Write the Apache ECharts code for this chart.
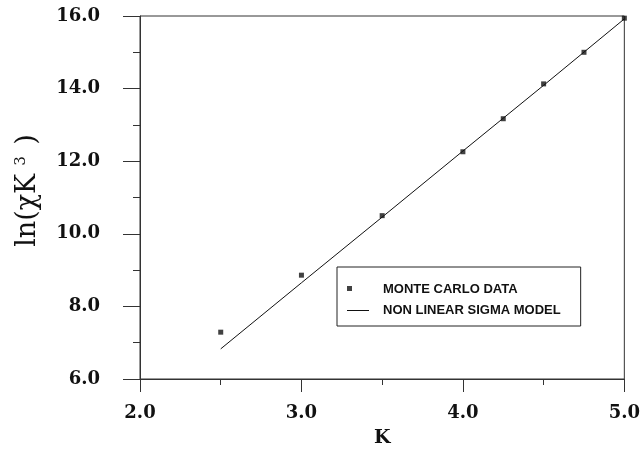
<!DOCTYPE html>
<html>
<head>
<meta charset="utf-8">
<script src="https://cdn.jsdelivr.net/npm/echarts@6/dist/echarts.min.js"></script>
<style>html,body{margin:0;padding:0;background:#fff}#c{width:643px;height:454px}</style>
</head>
<body>
<div id="c"></div>
<script>
var xTicks = [2.0, 3.0, 4.0, 5.0];
var yTicks = [6.0, 8.0, 10.0, 12.0, 14.0, 16.0];
var mcK = [2.5, 3.0, 3.5, 4.0, 4.25, 4.5, 4.75, 5.0];
var mcVal = [7.29, 8.86, 10.5, 12.26, 13.17, 14.13, 15.0, 15.94];
var modelK = [2.5, 3.0, 3.5, 4.0, 4.5, 5.0];
var modelVal = [6.83, 8.65, 10.46, 12.28, 14.09, 15.92];

var chart = echarts.init(document.getElementById('c'), null, {renderer: 'canvas'});
var serif = '"DejaVu Serif", "Liberation Serif", serif';
var sans = '"Liberation Sans", Arial, sans-serif';
chart.setOption({
  animation: false,
  backgroundColor: '#fff',
  grid: {left: 140, top: 16, right: 15, bottom: 75, show: true, borderColor: '#333', borderWidth: 1, backgroundColor: 'transparent'},
  xAxis: {
    type: 'value', min: xTicks[0], max: xTicks[xTicks.length - 1], interval: 1,
    name: 'K', nameLocation: 'middle', nameGap: 50,
    nameTextStyle: {fontFamily: serif, fontSize: 19, fontWeight: 'bold', color: '#111'},
    axisLine: {show: true, onZero: false, lineStyle: {color: '#333', width: 1}},
    axisTick: {show: true, inside: false, length: 13, lineStyle: {color: '#333'}},
    minorTick: {show: true, splitNumber: 2, length: 6, lineStyle: {color: '#333'}},
    splitLine: {show: false},
    axisLabel: {margin: 25, fontFamily: serif, fontSize: 18, fontWeight: 'bold', color: '#111',
      formatter: function (v) { return v.toFixed(1); }}
  },
  yAxis: {
    type: 'value', min: yTicks[0], max: yTicks[yTicks.length - 1], interval: 2,
    name: '{a|ln(χK}{s|3}{a| )}', nameLocation: 'middle', nameGap: 98,
    nameTextStyle: {padding: [0, 0, 0, 14], rich: {
      a: {fontFamily: serif, fontSize: 27, color: '#111'},
      s: {fontFamily: serif, fontSize: 15, color: '#111', verticalAlign: 'top', padding: [0, 3, 13, 8]}
    }},
    axisLine: {show: true, onZero: false, lineStyle: {color: '#333', width: 1}},
    axisTick: {show: true, inside: false, length: 17, lineStyle: {color: '#333'}},
    minorTick: {show: true, splitNumber: 2, length: 7, lineStyle: {color: '#333'}},
    splitLine: {show: false},
    axisLabel: {margin: 40, fontFamily: serif, fontSize: 18, fontWeight: 'bold', color: '#111',
      formatter: function (v) { return v.toFixed(1); }}
  },
  legend: {
    orient: 'vertical', left: 337, top: 267,
    padding: [15, 20, 9, 10], itemGap: 8, itemWidth: 22, itemHeight: 14,
    borderColor: '#222', borderWidth: 1,
    textStyle: {fontFamily: sans, fontSize: 13, fontWeight: 'bold', color: '#111', padding: [0, 0, 0, 9]},
    data: [
      {name: 'MONTE CARLO DATA', icon: 'path://M0,0L0.01,0L0.01,0.01ZM22,14L22.01,14L22.01,14.01ZM0,4L5,4L5,9L0,9Z', itemStyle: {color: '#111'}},
      {name: 'NON LINEAR SIGMA MODEL', icon: 'path://M0,6.5L22,6.5L22,7.5L0,7.5Z', itemStyle: {color: '#111'}}
    ]
  },
  series: [
    {
      name: 'NON LINEAR SIGMA MODEL', type: 'line', showSymbol: false, symbol: 'none',
      lineStyle: {color: '#111', width: 1}, itemStyle: {color: '#111'},
      data: modelK.map(function (k, i) { return [k, modelVal[i]]; })
    },
    {
      name: 'MONTE CARLO DATA', type: 'scatter', symbol: 'rect', symbolSize: 5,
      itemStyle: {color: '#111'},
      data: mcK.map(function (k, i) { return [k, mcVal[i]]; })
    }
  ]
});
</script>
</body>
</html>
